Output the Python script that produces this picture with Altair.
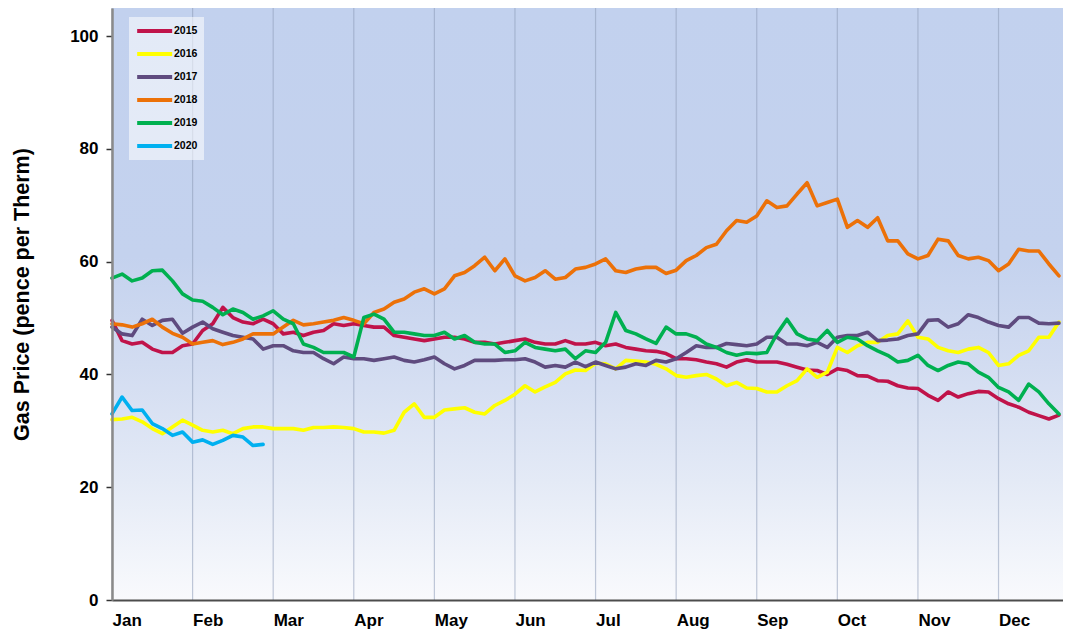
import altair as alt
import pandas as pd

YEARS = ["2015", "2016", "2017", "2018", "2019", "2020"]
COLORS = ["#C0134A", "#FFFF00", "#5F4B7F", "#EC7108", "#00B050", "#00B0F0"]
MONTHS = ["Jan", "Feb", "Mar", "Apr", "May", "Jun",
          "Jul", "Aug", "Sep", "Oct", "Nov", "Dec"]
SAMPLES_PER_MONTH = 8
X_END = 11.8
Y_MAX = 105
Y_TICKS = [0, 20, 40, 60, 80, 100]

p2015 = [49.6, 46.0, 45.4, 45.7, 44.5, 43.9, 43.9, 45.1, 45.4, 47.8,
         49.0, 51.9, 50.1, 49.3, 49.0, 49.8, 49.0, 47.2, 47.5, 46.9,
         47.5, 47.8, 49.0, 48.7, 49.0, 48.7, 48.4, 48.4, 46.9, 46.6,
         46.3, 46.0, 46.3, 46.6, 46.6, 46.3, 45.7, 45.7, 45.4, 45.7,
         46.0, 46.3, 45.7, 45.4, 45.4, 46.0, 45.4, 45.4, 45.7, 45.1,
         45.4, 44.8, 44.5, 44.2, 44.1, 43.7, 42.8, 42.8, 42.6, 42.2,
         41.9, 41.3, 42.2, 42.6, 42.2, 42.2, 42.2, 41.8, 41.3, 40.8,
         40.7, 40.0, 41.0, 40.7, 39.8, 39.7, 38.9, 38.8, 38.0, 37.6,
         37.5, 36.3, 35.4, 36.9, 36.0, 36.6, 37.0, 36.9, 35.7, 34.8,
         34.2, 33.3, 32.7, 32.1, 32.8]

p2016 = [32.0, 32.1, 32.4, 31.6, 30.4, 29.5, 30.7, 31.9, 31.0, 30.1,
         29.8, 30.1, 29.5, 30.4, 30.7, 30.7, 30.4, 30.4, 30.4, 30.1,
         30.6, 30.6, 30.7, 30.6, 30.4, 29.8, 29.8, 29.6, 30.1, 33.3,
         34.8, 32.4, 32.4, 33.7, 33.9, 34.1, 33.3, 33.0, 34.5, 35.4,
         36.5, 38.0, 36.9, 37.8, 38.6, 40.1, 40.8, 40.7, 42.0, 41.9,
         41.0, 42.5, 42.4, 42.2, 41.8, 41.0, 39.8, 39.5, 39.8, 40.0,
         39.2, 38.0, 38.6, 37.6, 37.5, 36.9, 36.9, 38.0, 38.9, 41.0,
         39.5, 40.4, 44.8, 43.9, 45.1, 45.7, 45.7, 46.9, 47.2, 49.5,
         46.6, 46.3, 44.8, 44.2, 43.9, 44.5, 44.8, 43.9, 41.6, 41.9,
         43.4, 44.2, 46.6, 46.6, 49.3]

p2017 = [48.4, 47.2, 46.9, 49.8, 48.7, 49.6, 49.8, 47.3, 48.4, 49.3,
         48.1, 47.5, 46.9, 46.6, 46.3, 44.5, 45.1, 45.1, 44.2, 43.9,
         43.9, 42.8, 41.9, 43.1, 42.8, 42.8, 42.5, 42.8, 43.1, 42.5,
         42.2, 42.6, 43.1, 41.9, 41.0, 41.6, 42.5, 42.5, 42.5, 42.6,
         42.6, 42.8, 42.2, 41.3, 41.6, 41.3, 42.2, 41.4, 42.2, 41.6,
         41.0, 41.3, 41.9, 41.6, 42.5, 42.2, 42.8, 43.9, 45.1, 44.8,
         44.8, 45.5, 45.3, 45.1, 45.4, 46.6, 46.6, 45.4, 45.4, 45.1,
         45.7, 44.8, 46.6, 46.9, 46.9, 47.5, 46.0, 46.1, 46.3, 46.9,
         47.2, 49.6, 49.7, 48.4, 49.0, 50.6, 50.1, 49.3, 48.7, 48.4,
         50.1, 50.1, 49.1, 49.0, 49.1]

p2018 = [49.0, 48.8, 48.4, 49.0, 49.8, 48.4, 47.3, 46.6, 45.4, 45.7,
         46.0, 45.3, 45.7, 46.3, 47.2, 47.2, 47.2, 48.4, 49.6, 48.8,
         49.0, 49.3, 49.6, 50.1, 49.6, 49.0, 51.0, 51.6, 52.8, 53.4,
         54.6, 55.2, 54.3, 55.2, 57.5, 58.1, 59.3, 60.8, 58.4, 60.5,
         57.5, 56.6, 57.2, 58.4, 56.9, 57.2, 58.7, 59.0, 59.6, 60.5,
         58.4, 58.1, 58.7, 59.0, 59.0, 57.9, 58.5, 60.2, 61.1, 62.5,
         63.1, 65.5, 67.3, 67.0, 68.1, 70.8, 69.6, 69.9, 72.0, 74.0,
         69.9, 70.5, 71.1, 66.1, 67.3, 66.1, 67.8, 63.7, 63.7, 61.4,
         60.5, 61.1, 64.0, 63.7, 61.1, 60.5, 60.8, 60.2, 58.4, 59.6,
         62.2, 61.9, 61.9, 59.6, 57.5]

p2019 = [57.1, 57.8, 56.6, 57.1, 58.4, 58.5, 56.6, 54.3, 53.2, 53.0,
         51.9, 50.6, 51.6, 51.0, 49.8, 50.4, 51.3, 49.8, 49.0, 45.4,
         44.8, 43.9, 43.9, 43.9, 43.1, 50.1, 50.7, 49.8, 47.5, 47.5,
         47.2, 46.9, 46.9, 47.5, 46.3, 46.9, 45.7, 45.4, 45.4, 43.9,
         44.2, 45.7, 44.8, 44.5, 44.2, 44.5, 42.8, 44.2, 43.9, 45.7,
         51.0, 47.8, 47.2, 46.3, 45.5, 48.4, 47.2, 47.2, 46.6, 45.4,
         44.8, 43.9, 43.4, 43.8, 43.7, 43.9, 47.2, 49.8, 47.2, 46.3,
         46.0, 47.8, 45.7, 46.6, 46.3, 45.1, 44.2, 43.4, 42.2, 42.5,
         43.4, 41.6, 40.7, 41.6, 42.2, 41.9, 40.4, 39.5, 37.7, 36.9,
         35.4, 38.3, 36.9, 34.8, 33.0]

p2020 = [33.0, 36.0, 33.6, 33.7, 31.3, 30.4, 29.2, 29.8, 28.0, 28.4,
         27.6, 28.3, 29.2, 28.9, 27.4, 27.6]

SERIES = dict(zip(YEARS, [p2015, p2016, p2017, p2018, p2019, p2020]))

rows = []
for year, vals in SERIES.items():
    for i, v in enumerate(vals):
        rows.append({"year": year, "pos": i / SAMPLES_PER_MONTH, "price": v})
lines_df = pd.DataFrame(rows)

bg_df = pd.DataFrame([{"x0": 0, "x1": X_END, "y0": 0, "y1": Y_MAX}])
grid_df = pd.DataFrame({"m": list(range(len(MONTHS)))})

FONT = "Liberation Sans, Arial, sans-serif"

x_scale = alt.Scale(domain=[0, X_END], nice=False, zero=False)
y_scale = alt.Scale(domain=[0, Y_MAX], nice=False)

x_axis = alt.Axis(
    values=list(range(len(MONTHS))),
    labelExpr=f"{MONTHS}[datum.value]",
    labelAlign="left", labelBaseline="top", labelPadding=12,
    labelFont=FONT, labelFontSize=17, labelFontWeight="bold", labelColor="#000",
    labelOverlap=False, labelBound=False, labelFlush=False,
    ticks=False, grid=False, title=None,
    domainColor="#4d4d4d", domainWidth=2, zindex=1,
)
y_axis = alt.Axis(
    values=Y_TICKS, grid=False,
    labelFont=FONT, labelFontSize=17, labelFontWeight="bold", labelColor="#000",
    labelPadding=8, tickSize=6, tickColor="#333", tickWidth=1.5,
    domainColor="#8a8a8a", domainWidth=2.5,
    title="Gas Price (pence per Therm)", titleFont=FONT, titleFontSize=21.5,
    titleFontWeight="bold", titleColor="#000", titlePadding=36, titleY=286,
    zindex=1,
)

gradient = alt.Gradient(
    gradient="linear", x1=0, x2=0, y1=0, y2=1,
    stops=[
        alt.GradientStop(color="#C2D1EE", offset=0),
        alt.GradientStop(color="#C4D2EE", offset=0.42),
        alt.GradientStop(color="#D2DCF1", offset=0.6),
        alt.GradientStop(color="#E4EAF6", offset=0.8),
        alt.GradientStop(color="#F9FAFD", offset=1),
    ],
)

bg = alt.Chart(bg_df).mark_rect(color=gradient).encode(
    x=alt.X("x0:Q", scale=x_scale, axis=x_axis),
    x2="x1:Q",
    y=alt.Y("y0:Q", scale=y_scale, axis=y_axis),
    y2="y1:Q",
)

grid = alt.Chart(grid_df).mark_rule(color="#8E9DB8", strokeWidth=1.2, opacity=0.55).encode(
    x=alt.X("m:Q", scale=x_scale, axis=x_axis),
)

lines = alt.Chart(lines_df).mark_line(
    strokeWidth=3.6, strokeCap="round", strokeJoin="round"
).encode(
    x=alt.X("pos:Q", scale=x_scale, axis=x_axis),
    y=alt.Y("price:Q", scale=y_scale, axis=y_axis),
    color=alt.Color(
        "year:N",
        scale=alt.Scale(domain=YEARS, range=COLORS),
        legend=alt.Legend(
            orient="none", legendX=17, legendY=9, title=None,
            symbolType="M-1,0L5,0", symbolSize=136, symbolStrokeWidth=4,
            labelFont=FONT, labelFontSize=10.5, labelFontWeight="bold",
            labelColor="#000", labelOffset=23,
            fillColor="rgba(255,255,255,0.55)", padding=6, rowPadding=7,
        ),
    ),
    detail="year:N",
)

chart = alt.layer(bg, grid, lines).properties(
    width=951, height=592,
    autosize=alt.AutoSizeParams(type="none"),
    padding={"left": 104, "top": 0, "right": 0, "bottom": 29},
    background="white",
).configure_view(strokeWidth=0)

chart.save("out.html", embed_options={"renderer": "svg", "actions": False})
